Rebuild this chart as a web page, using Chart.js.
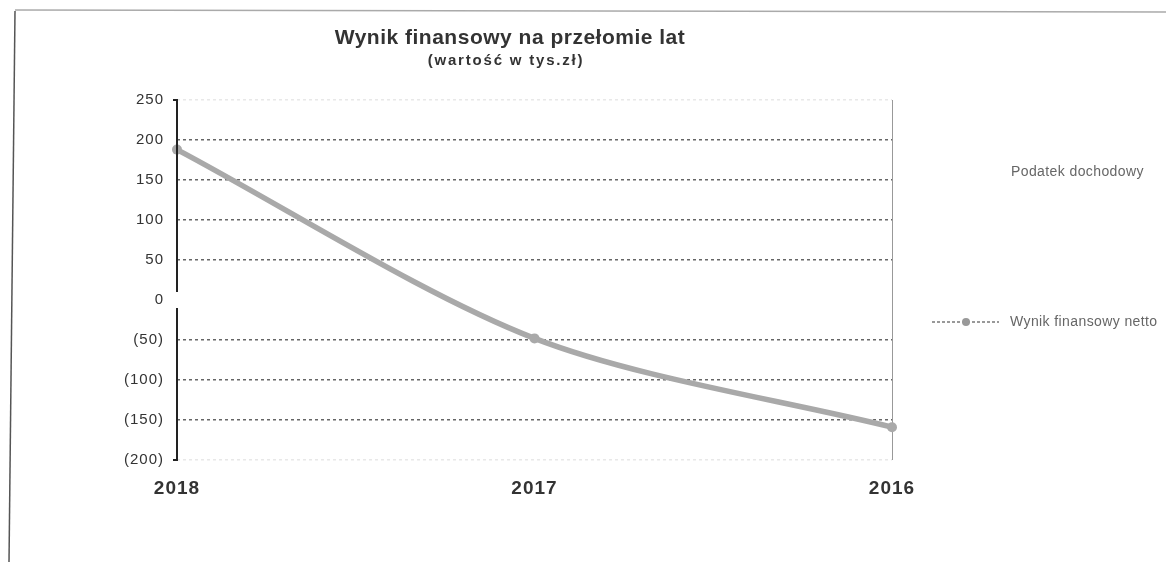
<!DOCTYPE html>
<html lang="pl">
<head>
  <title>Wynik finansowy na przełomie lat</title>
  <meta charset="utf-8">
  <script src="https://cdn.jsdelivr.net/npm/chart.js@4/dist/chart.umd.min.js"></script>
  <style type="text/css">
    html, body { margin: 0; padding: 0; background: #fff; }
    #wrap { width: 1166px; height: 562px; }
  </style>
</head>
<body>
<div id="wrap"><canvas id="wynik-canvas"></canvas></div>
<script type="text/javascript">
var years = ["2018", "2017", "2016"];
var wynikNetto = [188, -48, -159];
var legendLabels = ["Podatek dochodowy", "Wynik finansowy netto"];
var yTicks = [250, 200, 150, 100, 50, 0, -50, -100, -150, -200];
var chartTitle = "Wynik finansowy na przełomie lat";
var chartSubtitle = "(wartość w tys.zł)";

var FONT = "'Liberation Sans', Arial, sans-serif";

// ramka strony, tytuł, przerwana oś Y i legenda po prawej
var decorPlugin = {
  id: "decor",
  beforeDraw: function(chart) {
    var ctx = chart.ctx;
    ctx.save();
    ctx.strokeStyle = "#555";
    ctx.lineWidth = 1.5;
    ctx.beginPath();
    ctx.moveTo(15, 11);
    ctx.lineTo(9, 562);
    ctx.stroke();
    ctx.strokeStyle = "#aaa";
    ctx.beginPath();
    ctx.moveTo(15, 10);
    ctx.lineTo(1166, 12);
    ctx.stroke();

    ctx.fillStyle = "#333";
    ctx.textAlign = "center";
    ctx.textBaseline = "middle";
    ctx.letterSpacing = "0.5px";
    ctx.font = "bold 21px " + FONT;
    ctx.fillText(chartTitle, 510, 38);
    ctx.letterSpacing = "1.8px";
    ctx.font = "bold 15px " + FONT;
    ctx.fillText(chartSubtitle, 506, 61);
    ctx.restore();
    // odstępy liter dla etykiet osi (skan ma szeroki krój)
    ctx.letterSpacing = "1px";
  },
  afterDatasetsDraw: function(chart) {
    var ctx = chart.ctx;
    var y = chart.scales.y;
    var x0 = chart.chartArea.left;
    var zero = y.getPixelForValue(0);
    ctx.save();
    ctx.strokeStyle = "#222";
    ctx.lineWidth = 2;
    ctx.beginPath();
    ctx.moveTo(x0 - 4, y.getPixelForValue(250));
    ctx.lineTo(x0, y.getPixelForValue(250));
    ctx.lineTo(x0, zero - 8);
    ctx.moveTo(x0, zero + 8);
    ctx.lineTo(x0, y.getPixelForValue(-200));
    ctx.lineTo(x0 - 4, y.getPixelForValue(-200));
    ctx.stroke();

    ctx.letterSpacing = "0.4px";
    ctx.font = "14px " + FONT;
    ctx.fillStyle = "#666";
    ctx.textAlign = "left";
    ctx.textBaseline = "middle";
    ctx.fillText(legendLabels[0], 1011, 172);
    ctx.fillText(legendLabels[1], 1010, 322);
    ctx.strokeStyle = "#999";
    ctx.lineWidth = 2;
    ctx.setLineDash([3, 2]);
    ctx.beginPath();
    ctx.moveTo(932, 322);
    ctx.lineTo(999, 322);
    ctx.stroke();
    ctx.setLineDash([]);
    ctx.fillStyle = "#999";
    ctx.beginPath();
    ctx.arc(966, 322, 4, 0, Math.PI * 2);
    ctx.fill();
    ctx.restore();
  }
};

var ctx = document.getElementById("wynik-canvas").getContext("2d");
var wynikChart = new Chart(ctx, {
  type: "line",
  data: {
    labels: years,
    datasets: [{
      label: legendLabels[1],
      data: wynikNetto,
      borderColor: "#a9a9a9",
      backgroundColor: "#a9a9a9",
      borderWidth: 5.5,
      tension: 0.3,
      pointRadius: 5,
      pointBorderWidth: 0,
      clip: false
    }]
  },
  options: {
    responsive: true,
    maintainAspectRatio: false,
    animation: false,
    layout: {
      padding: { left: 100, right: 274, top: 100, bottom: 52 }
    },
    plugins: {
      legend: { display: false },
      tooltip: { enabled: false },
      title: { display: false }
    },
    scales: {
      x: {
        offset: false,
        border: { display: false },
        grid: {
          drawTicks: false,
          color: function(c) { return c.index === years.length - 1 ? "#999" : "rgba(0,0,0,0)"; }
        },
        ticks: {
          color: "#333",
          padding: 17,
          font: { family: FONT, size: 19, weight: "bold" }
        },
        afterFit: function(scale) { scale.height = 50; }
      },
      y: {
        min: -200,
        max: 250,
        afterBuildTicks: function(scale) {
          scale.ticks = yTicks.map(function(v) { return { value: v }; });
        },
        border: { display: false, dash: [3, 3] },
        grid: {
          drawTicks: false,
          lineWidth: 1.5,
          color: function(c) {
            var v = c.tick ? c.tick.value : null;
            if (v === 0) return "rgba(0,0,0,0)";
            if (v === 250 || v === -200) return "#e8e8e8";
            return "#666";
          }
        },
        ticks: {
          color: "#333",
          padding: 13,
          font: { family: FONT, size: 15 },
          callback: function(v) { return v < 0 ? "(" + Math.abs(v) + ")" : String(v); }
        },
        afterFit: function(scale) { scale.width = 77; }
      }
    }
  },
  plugins: [decorPlugin]
});
</script>
</body>
</html>
